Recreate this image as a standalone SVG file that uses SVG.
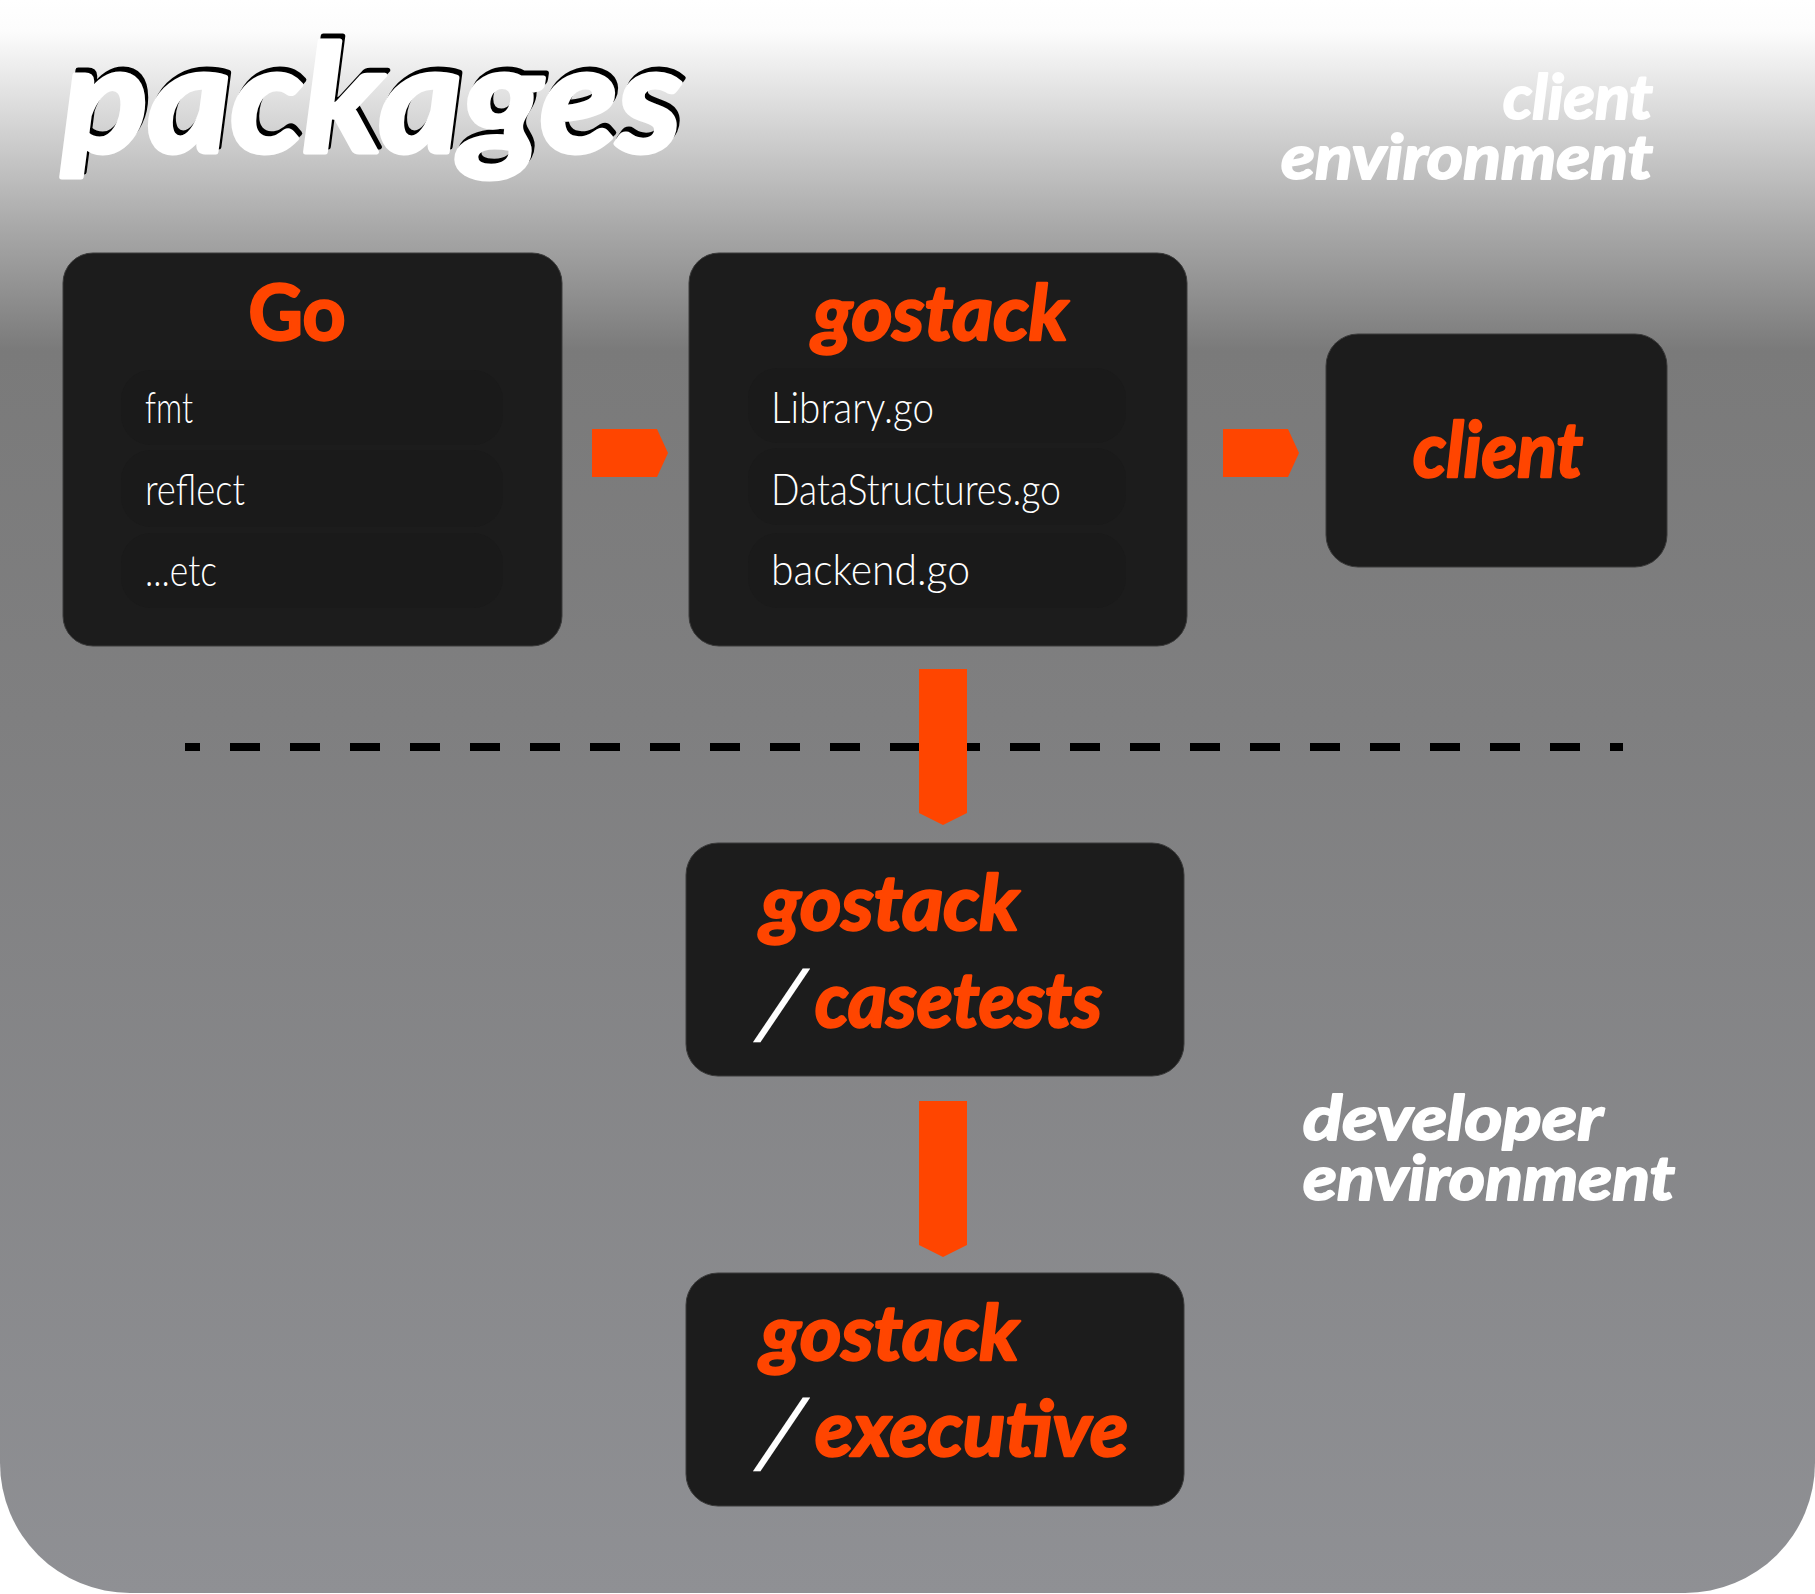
<svg xmlns="http://www.w3.org/2000/svg" width="1815" height="1594" viewBox="0 0 1815 1594">
<defs>
<linearGradient id="bg" gradientUnits="userSpaceOnUse" x1="0" y1="0" x2="0" y2="1594">
<stop offset="0" stop-color="#ffffff"/>
<stop offset="0.02" stop-color="#fcfcfc"/>
<stop offset="0.14" stop-color="#aaaaaa"/>
<stop offset="0.22" stop-color="#7a7a7a"/>
<stop offset="0.45" stop-color="#7f7f80"/>
<stop offset="1" stop-color="#8f9094"/>
</linearGradient>
<style>
.box{fill:#1c1c1c;stroke:#3a3a3a;stroke-width:1}
.row{fill:#1a1a1a}
.title{font-family:Lato,"Liberation Sans",sans-serif;font-weight:700;font-style:italic;fill:#ff4500;stroke:#ff4500;stroke-width:2.5;stroke-linejoin:round}
.item{font-family:Lato,"Open Sans",sans-serif;font-weight:300;fill:#ffffff;font-size:44px}
.env{font-family:Lato,"Liberation Sans",sans-serif;font-weight:700;font-style:italic;fill:#ffffff;stroke:#ffffff;stroke-width:2;stroke-linejoin:round;font-size:62px}
.big{font-family:Lato,"Liberation Sans",sans-serif;font-weight:700;font-style:italic;font-size:150px;stroke-width:5;stroke-linejoin:round}
.slash{font-family:"DejaVu Sans",sans-serif;font-weight:400;fill:#ffffff;font-size:90px}
.arrow{fill:#ff4500}
.dash{stroke:#000000;stroke-width:8;stroke-dasharray:30 30;stroke-dashoffset:15;fill:none}
</style>
</defs>
<path id="background" d="M0,0 H1815 V1463 A130,130 0 0 1 1685,1593 H130 A130,130 0 0 1 0,1463 Z" fill="url(#bg)"/>
<g id="title">
<text class="big" x="65" y="147" fill="#000000" stroke="#000000" textLength="620" lengthAdjust="spacingAndGlyphs">packages</text>
<text class="big" x="62" y="152" fill="#ffffff" stroke="#ffffff" textLength="620" lengthAdjust="spacingAndGlyphs">packages</text>
</g>
<g id="client-environment-label">
<text class="env" x="1653" y="119" text-anchor="end" textLength="150" lengthAdjust="spacingAndGlyphs">client</text>
<text class="env" x="1281" y="179" textLength="372" lengthAdjust="spacingAndGlyphs">environment</text>
</g>
<g id="developer-environment-label">
<text class="env" x="1303" y="1140" textLength="300" lengthAdjust="spacingAndGlyphs">developer</text>
<text class="env" x="1303" y="1200" textLength="372" lengthAdjust="spacingAndGlyphs">environment</text>
</g>
<g id="connectors">
<line class="dash" x1="185" y1="747" x2="1623" y2="747"/>
<polygon class="arrow" points="592,429 657,429 668,453 657,477 592,477"/>
<polygon class="arrow" points="1223,429 1288,429 1299,453 1288,477 1223,477"/>
<polygon class="arrow" points="919,669 967,669 967,813 943,825 919,813"/>
<polygon class="arrow" points="919,1101 967,1101 967,1245 943,1257 919,1245"/>
</g>
<g id="node-go">
<rect class="box" x="63" y="253" width="499" height="393" rx="30"/>
<rect class="row" x="121" y="370" width="382" height="75" rx="30"/>
<rect class="row" x="121" y="450" width="382" height="77" rx="30"/>
<rect class="row" x="121" y="533" width="382" height="75" rx="30"/>
<text x="297" y="340" text-anchor="middle" font-family="Lato,'Liberation Sans',sans-serif" font-weight="700" font-size="76" fill="#ff4500" stroke="#ff4500" stroke-width="2.5" stroke-linejoin="round" textLength="97" lengthAdjust="spacingAndGlyphs">Go</text>
<text class="item" x="145" y="423" textLength="48" lengthAdjust="spacingAndGlyphs">fmt</text>
<text class="item" x="145" y="505" textLength="100" lengthAdjust="spacingAndGlyphs">reflect</text>
<text class="item" x="145" y="586" textLength="72" lengthAdjust="spacingAndGlyphs">...etc</text>
</g>
<g id="node-gostack">
<rect class="box" x="689" y="253" width="498" height="393" rx="30"/>
<rect class="row" x="748" y="368" width="378" height="75" rx="30"/>
<rect class="row" x="748" y="448" width="378" height="77" rx="30"/>
<rect class="row" x="748" y="533" width="378" height="75" rx="30"/>
<text class="title" x="813" y="340" font-size="76" textLength="255" lengthAdjust="spacingAndGlyphs">gostack</text>
<text class="item" x="771" y="423" textLength="163" lengthAdjust="spacingAndGlyphs">Library.go</text>
<text class="item" x="771" y="505" textLength="290" lengthAdjust="spacingAndGlyphs">DataStructures.go</text>
<text class="item" x="771" y="585" textLength="199" lengthAdjust="spacingAndGlyphs">backend.go</text>
</g>
<g id="node-client">
<rect class="box" x="1326" y="334" width="341" height="233" rx="32"/>
<text class="title" x="1413" y="477" font-size="76" textLength="170" lengthAdjust="spacingAndGlyphs">client</text>
</g>
<g id="node-casetests">
<rect class="box" x="686" y="843" width="498" height="233" rx="32"/>
<text class="title" x="761" y="930" font-size="76" textLength="258" lengthAdjust="spacingAndGlyphs">gostack</text>
<text class="slash" transform="translate(756,1034) skewX(-20)" x="0" y="0">/</text>
<text class="title" x="815" y="1027" font-size="76" textLength="287" lengthAdjust="spacingAndGlyphs">casetests</text>
</g>
<g id="node-executive">
<rect class="box" x="686" y="1273" width="498" height="233" rx="32"/>
<text class="title" x="761" y="1360" font-size="76" textLength="258" lengthAdjust="spacingAndGlyphs">gostack</text>
<text class="slash" transform="translate(756,1463) skewX(-20)" x="0" y="0">/</text>
<text class="title" x="815" y="1456" font-size="76" textLength="313" lengthAdjust="spacingAndGlyphs">executive</text>
</g>
</svg>
